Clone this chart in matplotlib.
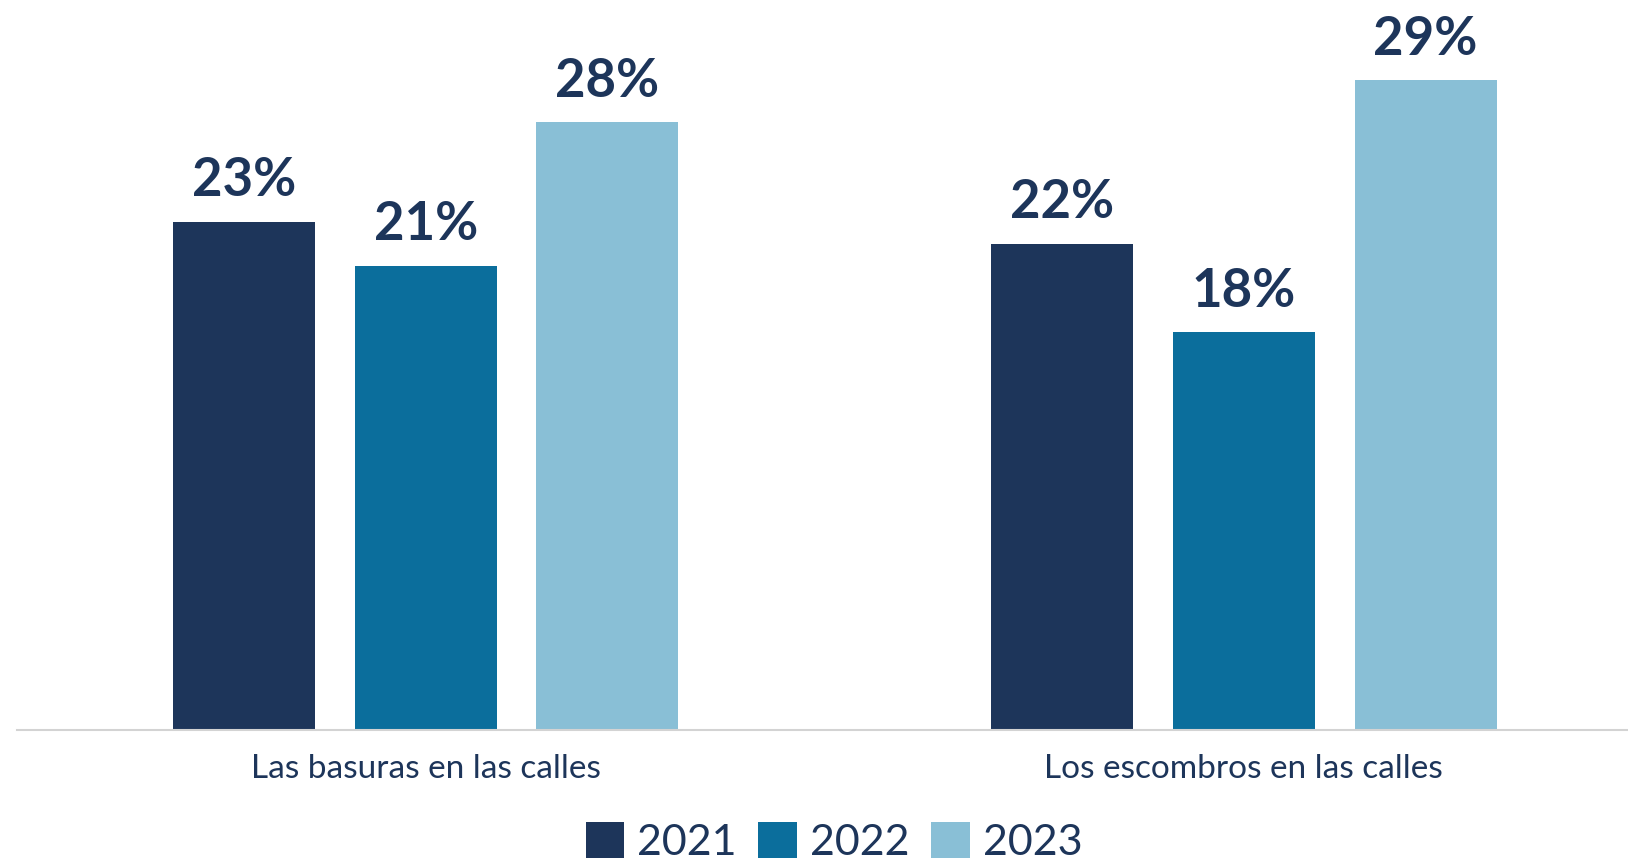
import matplotlib
matplotlib.use("Agg")
import matplotlib.pyplot as plt
import numpy as np
from matplotlib.patches import Patch

categories = ["Las basuras en las calles", "Los escombros en las calles"]
years = ["2021", "2022", "2023"]
values_2021 = [23.0, 22.0]
values_2022 = [21.0, 18.0]
values_2023 = [27.5, 29.4]
labels_2021 = ["23%", "22%"]
labels_2022 = ["21%", "18%"]
labels_2023 = ["28%", "29%"]

colors = ["#1d355a", "#0b6e9c", "#89bfd6"]
text_color = "#1d355a"

plt.rcParams['font.family'] = ['Lato', 'DejaVu Sans']

fig = plt.figure(figsize=(16.28, 8.59), dpi=100)
ax = fig.add_axes([16.6 / 1628, 129 / 859, 1 - 16.6 / 1628, 730 / 859])

x = np.arange(len(categories))
step = 0.2221
width = 0.1736
series = [values_2021, values_2022, values_2023]
labels = [labels_2021, labels_2022, labels_2023]
for i, (vals, labs, col, yr) in enumerate(zip(series, labels, colors, years)):
    bars = ax.bar(x + (i - 1) * step, vals, width=width, color=col, label=yr)
    ax.bar_label(bars, labels=labs, padding=12,
                 fontsize=38, fontweight='bold', color=text_color)

ax.set_xlim(-0.5001, 1.4696)
ax.set_ylim(0, 730 / 22.1)
ax.set_xticks(x)
ax.set_xticklabels(categories, fontsize=24, color=text_color)
ax.tick_params(axis='x', length=0, pad=17)
ax.set_yticks([])
for s in ['top', 'right', 'left']:
    ax.spines[s].set_visible(False)
ax.spines['bottom'].set_color('#d3d3d3')
ax.spines['bottom'].set_linewidth(1.5)

handles = [Patch(facecolor=c, edgecolor='none') for c in colors]
fig.legend(handles, years, loc='center', bbox_to_anchor=(834 / 1628, 17 / 859),
           ncol=3, frameon=False, fontsize=31, labelcolor=text_color,
           handlelength=0.9, handleheight=0.9, handletextpad=0.3,
           columnspacing=0.5, borderaxespad=0)

fig.savefig("out.png", dpi=100)
